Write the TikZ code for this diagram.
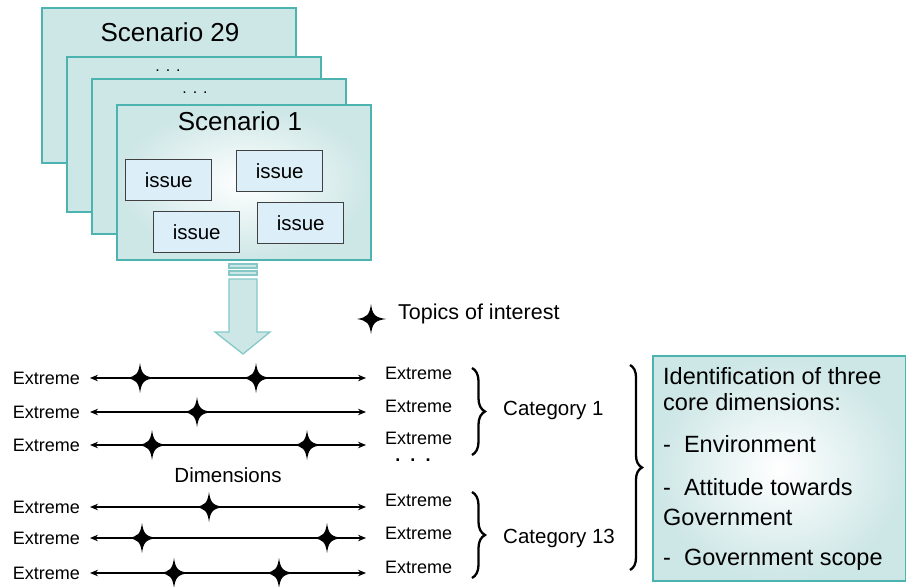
\documentclass[tikz,border=0pt]{standalone}
\usepackage{fontspec}
\setmainfont{Liberation Sans}
\usetikzlibrary{arrows.meta,decorations.pathreplacing,shadings}

\definecolor{tealfill}{HTML}{CDE6E6}
\definecolor{tealedge}{HTML}{4DB3B0}
\definecolor{issuefill}{HTML}{DCEEF8}
\definecolor{issueedge}{HTML}{404040}
\definecolor{arrowedge}{HTML}{86C8C8}

\tikzset{
  scenbox/.style={rectangle, draw=tealedge, line width=1.8pt, fill=tealfill,
    anchor=north west, inner sep=0pt, minimum width=254pt, minimum height=155pt},
  scentitle/.style={font=\fontsize{26}{30}\selectfont, inner sep=0pt},
  dotsline/.style={font=\fontsize{16}{18}\selectfont, inner sep=0pt},
  issuebox/.style={rectangle, draw=issueedge, line width=1.4pt, fill=issuefill,
    anchor=north west, inner sep=0pt, minimum width=86pt, minimum height=41pt,
    font=\fontsize{20.5}{24}\selectfont},
  flowarrow/.style={draw=arrowedge, line width=1.3pt, fill=tealfill},
  extl/.style={font=\fontsize{18}{21}\selectfont, inner sep=0pt, anchor=east},
  extr/.style={font=\fontsize{18}{21}\selectfont, inner sep=0pt, anchor=west},
  dimline/.style={line width=1.3pt, {Stealth[length=8pt,width=6.5pt]}-{Stealth[length=8pt,width=6.5pt]}},
  label/.style={font=\fontsize{20.5}{24}\selectfont, inner sep=0pt},
  catbrace/.style={decorate, line width=2.3pt, decoration={brace, amplitude=13pt}},
  bigbrace/.style={decorate, line width=2.3pt, decoration={brace, amplitude=12pt}},
  summary/.style={rectangle, draw=tealedge, line width=1.8pt, anchor=north west,
    minimum width=253pt, minimum height=225pt, inner sep=0pt,
    shading=radial, inner color=white, outer color=tealfill},
  topicstar/.pic={
    \fill[black] (0,-15) .. controls (1.5,-4) and (4,-1.6) .. (15,0)
      .. controls (4,1.6) and (1.5,4) .. (0,15)
      .. controls (-1.5,4) and (-4,1.6) .. (-14,0)
      .. controls (-4,-1.6) and (-1.5,-4) .. cycle;
  }
}

\begin{document}
\begin{tikzpicture}[x=1pt,y=-1pt]
\useasboundingbox (0,0) rectangle (906,587);

% stack of scenario cards
\node[scenbox] (s29) at (41,7) {};
\node[scenbox] (s3) at (66,56) {};
\node[scenbox] (s2) at (91,78) {};
\node[scenbox, shading=radial, inner color=white, outer color=tealfill] (s1) at (116,104) {};
\node[scentitle] (t29) at (170,32) {Scenario 29};
\node[dotsline] (d3) at (168,71) {. . .};
\node[dotsline] (d2) at (195,93) {. . .};
\node[scentitle] (t1) at (240,121) {Scenario 1};

% issues inside the first scenario
\node[issuebox] (i1) at (125,159) {issue};
\node[issuebox] (i2) at (236,150) {issue};
\node[issuebox] (i3) at (153,211) {issue};
\node[issuebox] (i4) at (257,202) {issue};

% downward block arrow
\draw[flowarrow] (229,264) rectangle (257,268);
\draw[flowarrow] (229,271) rectangle (257,275);
\draw[flowarrow] (229,279) -- (257,279) -- (257,332) -- (270,332) -- (243,354)
  -- (215,332) -- (229,332) -- cycle;

% legend
\pic at (371,319) {topicstar};
\node[font=\fontsize{21.5}{25}\selectfont, inner sep=0pt, anchor=west] (legend) at (398,314) {Topics of interest};

% dimension lines
\foreach \n/\y/\ry in {1/378/373, 2/412/406, 3/445/438, 4/507/500, 5/538/533, 6/573/567} {
  \node[extl] (l\n) at (80,\y) {Extreme};
  \node[extr] (r\n) at (385,\ry) {Extreme};
  \coordinate (a\n) at (90,\y);
  \coordinate (b\n) at (366,\y);
  \draw[dimline] (a\n) -- (b\n);
}
\foreach \x/\y in {140/378, 256/378, 197/412, 152/445, 307/445, 209/507,
                   142/538, 327/538, 174/573, 279/573}
  \pic at (\x,\y) {topicstar};

\node[font=\bfseries\fontsize{18}{20}\selectfont, inner sep=0pt] (gap) at (413,460) {.\ \ .\ \ .};
\node[label] (dims) at (228,475) {Dimensions};

% categories
\draw[catbrace] (472,368) -- (472,455);
\draw[catbrace] (472,492) -- (472,578);
\node[label, anchor=west] (c1) at (503,410) {Category 1};
\node[label, anchor=west] (c13) at (503,538) {Category 13};
\draw[bigbrace] (630,365) -- (630,570);

% summary box
\node[summary] (sum) at (652,355) {};
\node[font=\fontsize{23.5}{26}\selectfont, align=left, anchor=north west, inner sep=0pt]
  (sumtext) at (663,367) {Identification of three\\
  core dimensions:\\[16pt]
  -\ \ Environment\\[17pt]
  -\ \ Attitude towards\\[4pt]
  Government\\[14pt]
  -\ \ Government scope};
\end{tikzpicture}
\end{document}
